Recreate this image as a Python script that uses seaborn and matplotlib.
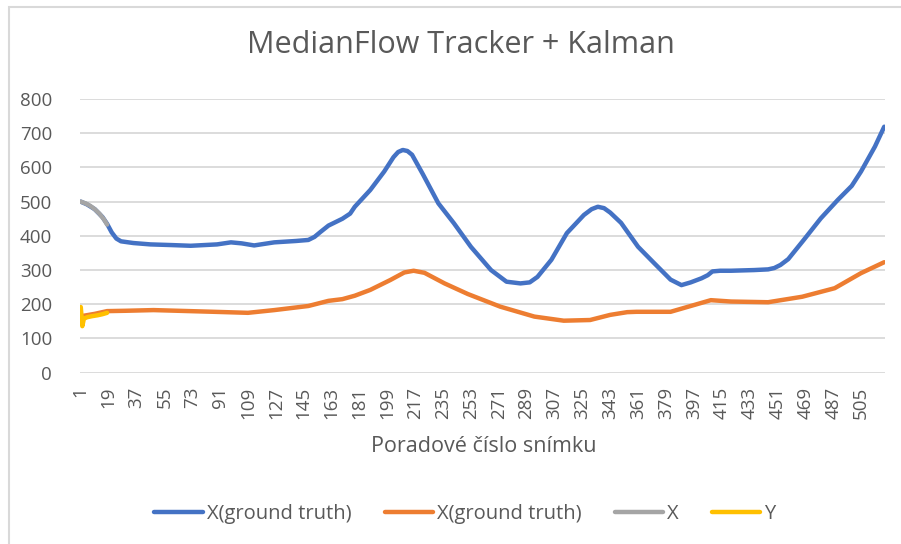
import numpy as np
import pandas as pd
import matplotlib
matplotlib.use("Agg")
import matplotlib.pyplot as plt
import seaborn as sns

#%% Data (frame number, value)

blue_frames = [1, 5, 10, 15, 18, 21, 24, 27, 35, 46, 60, 72, 89, 98, 105, 113, 126, 140, 148,
               152, 156, 161, 170, 175, 178, 188, 197, 203, 206, 209, 212, 215, 222, 232, 242,
               253, 266, 276, 285, 291, 296, 305, 315, 326, 331, 335, 339, 343, 350, 361, 371,
               382, 389, 395, 402, 406, 409, 414, 421, 436, 445, 449, 453, 458, 468, 479, 490,
               499, 505, 514, 520]
blue_values = [500, 492, 478, 455, 435, 410, 392, 384, 379, 375, 373, 371, 375, 381, 378, 372, 381,
               385, 388, 397, 412, 430, 450, 465, 485, 534, 588, 630, 645, 651, 648, 637, 580, 495,
               437, 368, 300, 266, 261, 264, 280, 330, 408, 461, 478, 485, 481, 468, 438, 368, 322,
               272, 256, 264, 276, 285, 296, 298, 298, 300, 302, 306, 315, 332, 388, 451, 505, 546,
               588, 661, 719]

orange_frames = [1, 10, 18, 30, 48, 87, 109, 126, 148, 161, 170, 178, 188, 201, 210, 216, 223, 236,
                 251, 272, 294, 313, 330, 343, 354, 360, 382, 395, 408, 421, 445, 467, 488, 505, 520]
orange_values = [165, 172, 180, 181, 183, 178, 175, 183, 195, 210, 215, 225, 242, 271, 293, 298, 292,
                 261, 230, 193, 164, 152, 154, 169, 177, 178, 178, 195, 212, 208, 206, 222, 247, 291, 323]

gray_frames = [1, 4, 7, 10, 13, 16, 18]
gray_values = [500, 495, 488, 478, 465, 448, 433]

yellow_frames = [1, 2, 3, 5, 8, 12, 15, 18]
yellow_values = [192, 136, 158, 162, 165, 168, 171, 175]

labels = ["X(ground truth)", "X(ground truth)", "X", "Y"]
colors = ["#4472C4", "#ED7D31", "#A5A5A5", "#FFC000"]
xtick_vals = list(range(1, 506, 18))

#%% Plot

sns.set_style("white")
plt.rcParams['font.family'] = ['Open Sans', 'DejaVu Sans']
txt = "#595959"

fig = plt.figure(figsize=(9.01, 5.44), dpi=100)
ax = fig.add_axes([80 / 901, 1 - 372.7 / 544, 805 / 901, 273.7 / 544])

series = [(blue_frames, blue_values), (orange_frames, orange_values),
          (gray_frames, gray_values), (yellow_frames, yellow_values)]
for i, (fr, vals) in enumerate(series):
    df = pd.DataFrame({"frame": fr, "value": vals})
    sns.lineplot(data=df, x="frame", y="value", ax=ax, color=colors[i], linewidth=3.2,
                 solid_capstyle="round", solid_joinstyle="round",
                 zorder=3 + i, legend=False)

ax.set_xlim(0.5, 520.5)
ax.set_ylim(0, 800)
ax.set_yticks(range(0, 801, 100))
ax.set_xticks(xtick_vals)
ax.set_xticklabels([str(v) for v in xtick_vals], rotation=90)
ax.yaxis.grid(True, color="#d9d9d9", linewidth=1.3)
ax.xaxis.grid(False)
for s in ax.spines.values():
    s.set_visible(False)
ax.tick_params(axis="both", length=0, labelsize=13.5, colors=txt)
ax.tick_params(axis="y", pad=20)
ax.tick_params(axis="x", pad=10)
ax.set_xlabel("")
ax.set_ylabel("")

fig.text(484 / 901, 1 - 452.3 / 544, "Poradové číslo snímku", ha="center", va="baseline",
         fontsize=15.5, color=txt)
fig.text(460.5 / 901, 1 - 53.3 / 544, "MedianFlow Tracker + Kalman", ha="center", va="baseline",
         fontsize=22, color=txt)

handles = [plt.Line2D([], [], color=c, linewidth=3.2, solid_capstyle="round") for c in colors]
leg = fig.legend(handles, labels, loc="center", bbox_to_anchor=(465 / 901, 1 - 514 / 544),
                 ncol=4, frameon=False, fontsize=14.5, handlelength=2.4, handletextpad=0.2,
                 columnspacing=1.65, borderpad=0)
for t in leg.get_texts():
    t.set_color(txt)

# chart area border like in Excel
fig.patches.append(plt.Rectangle((9 / 901, -0.05), 1.2, 1.05 - 7 / 544, transform=fig.transFigure,
                                 fill=False, edgecolor="#d9d9d9", linewidth=1.5))

fig.savefig("out.png", dpi=100)
